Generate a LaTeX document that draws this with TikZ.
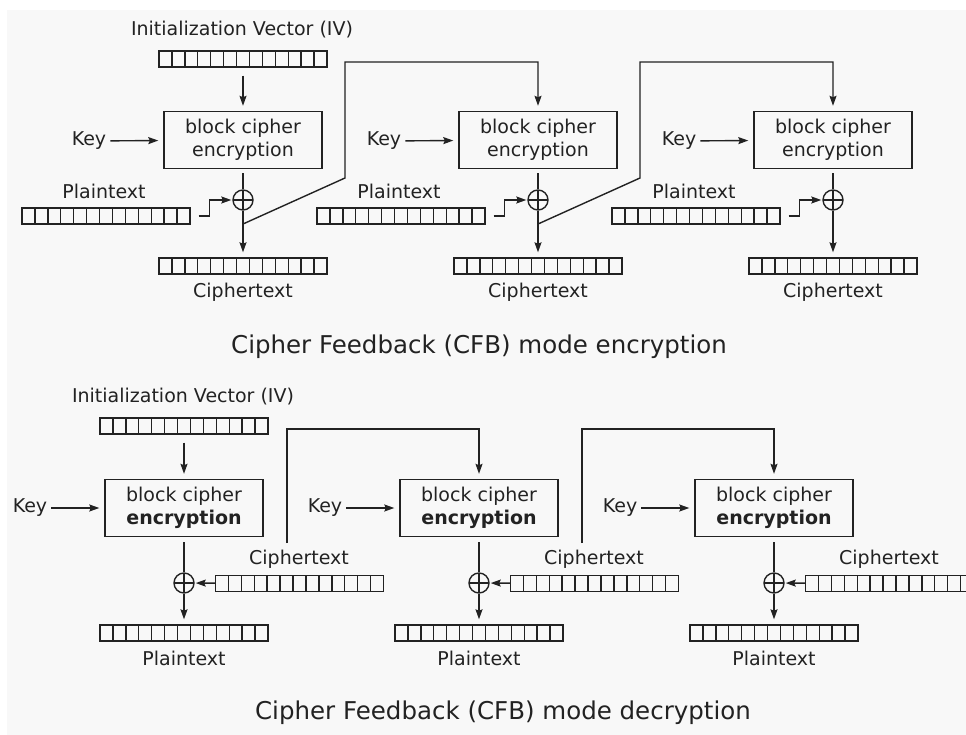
\documentclass[tikz,border=0pt]{standalone}
\usepackage{fontspec}
\setmainfont{DejaVu Sans}
\usetikzlibrary{arrows.meta}
\definecolor{ink}{HTML}{222222}
\definecolor{paper}{HTML}{F8F8F8}
\tikzset{
  arr/.style={-{Stealth[length=10pt,width=7pt,inset=1.5pt]}, shorten >=5pt},
  cbox/.style={draw, minimum width=158pt, minimum height=57pt, align=center},
  reg/.style={draw, minimum width=168pt, minimum height=16pt, inner sep=0pt,
    path picture={\foreach \k in {1,...,12}
      \draw[line width=1.4pt] ([xshift=\k*12.923pt]path picture bounding box.south west) -- ([xshift=\k*12.923pt]path picture bounding box.north west);}},
  xor/.style={draw, circle, minimum size=20pt, inner sep=0pt,
    path picture={\draw[line width=1.4pt] (path picture bounding box.west) -- (path picture bounding box.east)
      (path picture bounding box.north) -- (path picture bounding box.south);}},
}
\begin{document}
\begin{tikzpicture}[x=1pt, y=-1pt, line width=1.4pt, color=ink, font=\fontsize{19}{23}\selectfont]
  \useasboundingbox (0,0) rectangle (966,735);
  \fill[white] (0,0) rectangle (966,735);
  \fill[paper] (7,10) rectangle (966,735);

  % encryption
  \node[reg] (IV) at (243,59) {}; \node (IVL) at (242,30) {Initialization Vector (IV)};
  \foreach \x/\n in {243/1,538/2,833/3}{
    \node[cbox] (E\n) at (\x,140) {block cipher\\encryption};
    \node (K\n) at (\x-154,141) {Key}; \draw[arr] (K\n) -- (E\n);
    \node[xor] (X\n) at (\x,200) {};
    \node[reg] (P\n) at (\x-137,216) {}; \node (PL\n) at (\x-139,191) {Plaintext};
    \node[reg] (C\n) at (\x,266) {}; \node (CL\n) at (\x,292) {Ciphertext};
    \draw[shorten <=4pt] (E\n) -- (X\n); \draw[arr] (X\n) -- (C\n);
    \draw[arr, shorten >=1pt] ([xshift=8pt]P\n.east) -- ++(11,0) |- (X\n);
  }
  \draw[arr, shorten <=8pt] (IV) -- (E1);
  \foreach \x/\m in {243/2,538/3}
    \draw[arr] (\x,224) -- ++(102,-46) -- ++(0,-116) -| (E\m);
  \node (T1) at (479,347) {\fontsize{24.5}{28}\selectfont Cipher Feedback (CFB) mode encryption};

  % decryption
  \node[reg] (IV2) at (184,426) {}; \node (IVL2) at (183,397) {Initialization Vector (IV)};
  \foreach \x/\n in {184/1,479/2,774/3}{
    \node[cbox] (D\n) at (\x,508) {block cipher\\\textbf{encryption}};
    \node (KD\n) at (\x-154,508) {Key}; \draw[arr] (KD\n) -- (D\n);
    \node[xor] (Y\n) at (\x,583) {};
    \node[reg] (I\n) at (\x+115.5,583.5) {}; \node (IL\n) at (\x+115,559) {Ciphertext};
    \node[reg] (O\n) at (\x,633) {}; \node (OL\n) at (\x,658) {Plaintext};
    \draw[shorten <=5pt] (D\n) -- (Y\n); \draw[arr] (Y\n) -- (O\n);
    \draw[arr, shorten >=1pt] (I\n) -- (Y\n);
  }
  \draw[arr, shorten <=8pt] (IV2) -- (D1);
  \foreach \x/\m in {184/2,479/3}
    \draw[arr] (\x+103,543) -- (\x+103,429) -| (D\m);
  \node (T2) at (503,713) {\fontsize{24.5}{28}\selectfont Cipher Feedback (CFB) mode decryption};
\end{tikzpicture}
\end{document}
